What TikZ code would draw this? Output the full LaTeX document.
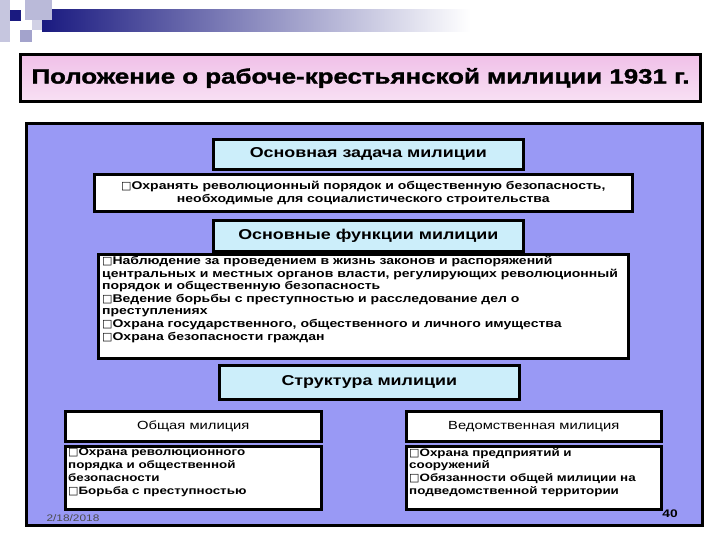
\documentclass[tikz,border=0pt]{standalone}
\usepackage{fontspec}
\setmainfont[FakeStretch=1.25]{Liberation Sans}
\newfontfamily\dejavu{DejaVu Sans}
\usetikzlibrary{calc}
\definecolor{panel}{HTML}{9999F5}
\definecolor{hdr}{HTML}{CCEEFA}
\definecolor{pinkA}{HTML}{F0C0E8}
\definecolor{pinkB}{HTML}{F8E0F4}
\definecolor{navy}{HTML}{1A1A80}
\newcommand{\bx}{{\dejavu\fontsize{11}{9}\selectfont□}}
\tikzset{
 frame/.style={draw=black,line width=2.6pt},
 hbox/.style={frame,fill=hdr},
 wbox/.style={frame,fill=white},
 htext/.style={font=\bfseries\fontsize{14.3}{15}\selectfont},
 btext/.style={font=\bfseries\fontsize{11.2}{12.6}\selectfont,align=left,anchor=north west,inner sep=0pt},
}
\begin{document}
\begin{tikzpicture}[x=1pt,y=-1pt]
\useasboundingbox (0,0) rectangle (720,540);
\fill[white] (0,0) rectangle (720,540);
% top decoration
\shade[left color=navy,right color=white] (42,10) rectangle (470,32);
\fill[navy!25] (0,0) rectangle (10,42);
\fill[navy!30] (25,0) rectangle (52,20);
\fill[navy!40] (20,30) rectangle (32,42);
\fill[navy!20] (32,20) rectangle (42,30);
\fill[navy] (10,10) rectangle (21,21);
% title
\node[frame,line width=3pt,top color=pinkA,bottom color=pinkB,minimum width=680pt,minimum height=47pt,anchor=north west,
 font=\bfseries\fontsize{20.7}{22}\selectfont\addfontfeature{FakeBold=1.5}] (title) at (19,53) {Положение о рабоче-крестьянской милиции 1931 г.};
% panel
\node[frame,line width=3pt,fill=panel,minimum width=676pt,minimum height=402pt,anchor=north west] (panel) at (25,122) {};
\node[hbox,htext,minimum width=310pt,minimum height=30pt,anchor=north west] (h1) at (212,138) {Основная задача милиции};
\node[wbox,minimum width=538pt,minimum height=37pt,anchor=north west,align=center,inner sep=0pt,font=\bfseries\fontsize{11.2}{12.6}\selectfont] (t1) at (93,173)
 {\bx Охранять революционный порядок и общественную безопасность,\\необходимые для социалистического строительства};
\node[hbox,htext,minimum width=310pt,minimum height=31pt,anchor=north west] (h2) at (212,219) {Основные функции милиции};
\node[wbox,minimum width=530pt,minimum height=104pt,anchor=north west] (t2) at (97,253) {};
\node[btext] at ($(t2.north west)+(5,3)$) {\bx Наблюдение за проведением в жизнь законов и распоряжений\\центральных и местных органов власти, регулирующих революционный\\порядок и общественную безопасность\\\bx Ведение борьбы с преступностью и расследование дел о\\преступлениях\\\bx Охрана государственного, общественного и личного имущества\\\bx Охрана безопасности граждан};
\node[hbox,htext,minimum width=300pt,minimum height=34pt,anchor=north west] (h3) at (218,364) {Структура милиции};
\node[wbox,minimum width=256pt,minimum height=30pt,anchor=north west,font=\fontsize{11.8}{13}\selectfont] (g) at (64,410) {Общая милиция};
\node[wbox,minimum width=255pt,minimum height=30pt,anchor=north west,font=\fontsize{11.8}{13}\selectfont] (v) at (405,410) {Ведомственная милиция};
\node[wbox,minimum width=256pt,minimum height=63pt,anchor=north west] (gt) at (64,445) {};
\node[btext,font=\bfseries\fontsize{10.7}{12.8}\selectfont] at ($(gt.north west)+(4,3)$) {\bx Охрана революционного\\порядка и общественной\\безопасности\\\bx Борьба с преступностью};
\node[wbox,minimum width=255pt,minimum height=63pt,anchor=north west] (vt) at (405,445) {};
\node[btext,font=\bfseries\fontsize{10.7}{12.8}\selectfont] at ($(vt.north west)+(4,3)$) {\bx Охрана предприятий и\\сооружений\\\bx Обязанности общей милиции на\\подведомственной территории};
\node[font=\fontsize{9.5}{10}\selectfont,anchor=west,text=black!70] (date) at (43,518) {2/18/2018};
\node[font=\bfseries\fontsize{11}{11}\selectfont] (num) at (670,514) {40};
\end{tikzpicture}
\end{document}
